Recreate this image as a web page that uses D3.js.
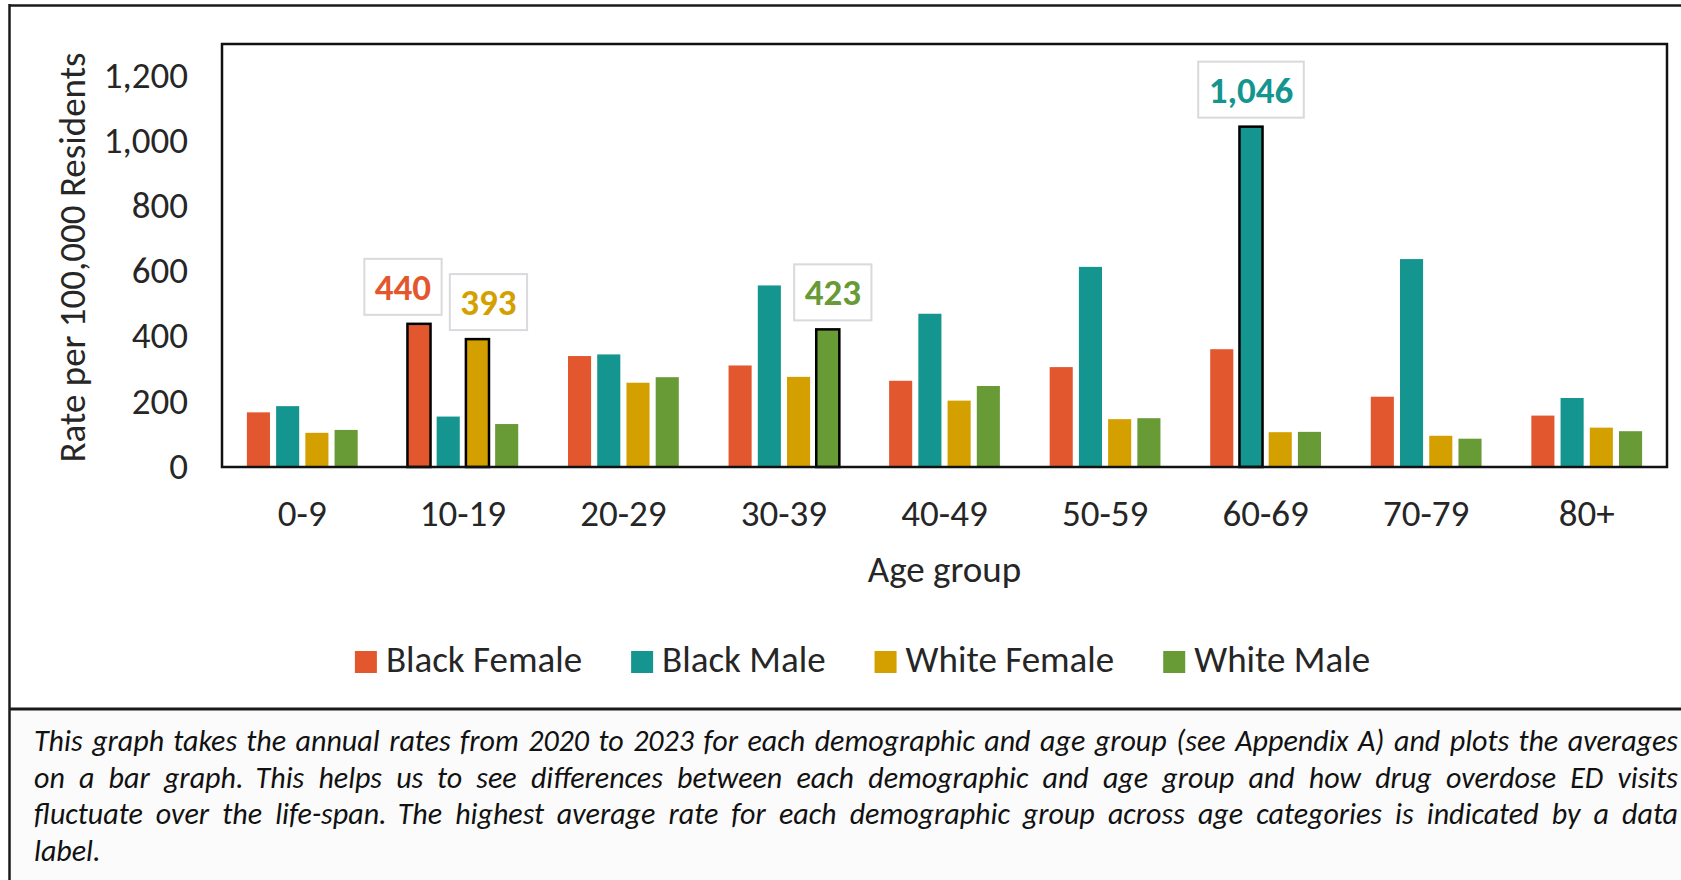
<!DOCTYPE html>
<html>
<head>
<meta charset="utf-8">
<script src="https://cdn.jsdelivr.net/npm/d3@7/dist/d3.min.js"></script>
<style>
  html, body { margin: 0; padding: 0; background: #ffffff; }
  svg { display: block; }
  text { font-family: Carlito, Calibri, "Open Sans", "Noto Sans", sans-serif; fill: #262626; }
</style>
</head>
<body>
<svg id="chart" width="1681" height="880"></svg>
<script>
// ---------------- data ----------------
const categories = ["0-9", "10-19", "20-29", "30-39", "40-49", "50-59", "60-69", "70-79", "80+"];
const seriesNames = ["Black Female", "Black Male", "White Female", "White Male"];
const blackFemale = [168, 440, 341, 312, 265, 307, 362, 216, 158];
const blackMale   = [187, 155, 346, 558, 471, 615, 1046, 639, 212];
const whiteFemale = [105, 393, 259, 277, 204, 147, 107, 96, 121];
const whiteMale   = [114, 132, 276, 423, 249, 150, 108, 87, 110];
const yTicks = [0, 200, 400, 600, 800, 1000, 1200];
const yTitle = "Rate per 100,000 Residents";
const xTitle = "Age group";
const captionLines = [
  "This graph takes the annual rates from 2020 to 2023 for each demographic and age group (see Appendix A) and plots the averages",
  "on a bar graph. This helps us to see differences between each demographic and age group and how drug overdose ED visits",
  "fluctuate over the life-span. The highest average rate for each demographic group across age categories is indicated by a data",
  "label."
];

// ---------------- styles / layout ----------------
const colors = {
  "Black Female": "#E3572F",
  "Black Male": "#14958F",
  "White Female": "#D4A000",
  "White Male": "#689A36"
};
const labelNudge = { "Black Female": -16, "Black Male": 0, "White Female": 11, "White Male": 5 };
const plot = { left: 222, right: 1667, top: 44, bottom: 467 };
const fontMain = 37;
const fontFam = 'Carlito, Calibri, "Open Sans", sans-serif';

const seriesValues = {
  "Black Female": blackFemale,
  "Black Male": blackMale,
  "White Female": whiteFemale,
  "White Male": whiteMale
};
const rows = categories.map((c, i) => {
  const r = { category: c };
  seriesNames.forEach(s => { r[s] = seriesValues[s][i]; });
  return r;
});

const svg = d3.select("#chart");

// caption background + frame
svg.append("rect").attr("x", 10).attr("y", 709).attr("width", 1700).attr("height", 200)
  .attr("fill", "#fbfbfb");
svg.append("line").attr("x1", 9).attr("x2", 1700).attr("y1", 5.5).attr("y2", 5.5)
  .attr("stroke", "#1a1a1a").attr("stroke-width", 2.5);
svg.append("line").attr("x1", 9.5).attr("x2", 9.5).attr("y1", 4).attr("y2", 900)
  .attr("stroke", "#1a1a1a").attr("stroke-width", 2.5);
svg.append("line").attr("x1", 9).attr("x2", 1700).attr("y1", 709).attr("y2", 709)
  .attr("stroke", "#1a1a1a").attr("stroke-width", 3);

// scales
const x0 = d3.scaleBand().domain(categories).range([plot.left, plot.right])
  .paddingInner(0.31).paddingOuter(0.155);
const x1 = d3.scaleBand().domain(seriesNames).range([0, x0.bandwidth()])
  .paddingInner(0.21).paddingOuter(0);
const y = d3.scaleLinear().domain([0, 1300]).range([plot.bottom, plot.top]);

// y axis labels
const yAxis = d3.axisLeft(y).tickValues(yTicks).tickFormat(d3.format(",")).tickSize(0).tickPadding(34);
const gy = svg.append("g").attr("transform", `translate(${plot.left},0)`).call(yAxis);
gy.select(".domain").remove();
gy.selectAll("text").attr("font-size", fontMain).attr("fill", "#262626")
  .attr("dy", "0.3em").style("font-family", fontFam);

// x axis labels
const xAxis = d3.axisBottom(x0).tickSize(0).tickPadding(33);
const gx = svg.append("g").attr("transform", `translate(0,${plot.bottom})`).call(xAxis);
gx.select(".domain").remove();
gx.selectAll("text").attr("font-size", fontMain).attr("fill", "#262626")
  .style("font-family", fontFam);

// bars
const groups = svg.append("g").selectAll("g").data(rows).join("g")
  .attr("transform", d => `translate(${x0(d.category)},0)`);

const maxBy = {};
seriesNames.forEach(s => { maxBy[s] = d3.max(seriesValues[s]); });

groups.selectAll("rect").data(d => seriesNames.map(s => ({ series: s, value: d[s], category: d.category })))
  .join("rect")
  .attr("x", d => x1(d.series))
  .attr("y", d => y(d.value))
  .attr("width", x1.bandwidth())
  .attr("height", d => y(0) - y(d.value))
  .attr("fill", d => colors[d.series])
  .attr("stroke", d => d.value === maxBy[d.series] ? "#000" : "none")
  .attr("stroke-width", 2.5);

// plot frame
svg.append("rect").attr("x", plot.left).attr("y", plot.top)
  .attr("width", plot.right - plot.left).attr("height", plot.bottom - plot.top)
  .attr("fill", "none").attr("stroke", "#111").attr("stroke-width", 2.5);

// data labels for maxima
const fmt = d3.format(",");
seriesNames.forEach(s => {
  const vals = seriesValues[s];
  const idx = vals.indexOf(maxBy[s]);
  const cx = x0(categories[idx]) + x1(s) + x1.bandwidth() / 2 + labelNudge[s];
  const boxBottom = y(maxBy[s]) - 9;
  const g = svg.append("g");
  const t = g.append("text").text(fmt(maxBy[s]))
    .attr("x", cx).attr("y", boxBottom - 15)
    .attr("text-anchor", "middle")
    .attr("font-size", fontMain).attr("font-weight", "bold")
    .style("fill", colors[s]);
  const w = t.node().getComputedTextLength() + 21;
  g.insert("rect", "text")
    .attr("x", cx - w / 2).attr("y", boxBottom - 56)
    .attr("width", w).attr("height", 56)
    .attr("fill", "#fff").attr("stroke", "#d9d9de").attr("stroke-width", 2);
});

// y title
svg.append("text").text(yTitle)
  .attr("transform", `translate(85,${(plot.top + plot.bottom) / 2 + 2}) rotate(-90)`)
  .attr("text-anchor", "middle").attr("font-size", fontMain);

// x title
svg.append("text").text(xTitle)
  .attr("x", (plot.left + plot.right) / 2).attr("y", 582)
  .attr("text-anchor", "middle").attr("font-size", fontMain);

// legend
const leg = svg.append("g");
let lx = 0;
seriesNames.forEach(s => {
  const it = leg.append("g").attr("transform", `translate(${lx},0)`);
  it.append("rect").attr("x", 0).attr("y", 651).attr("width", 22).attr("height", 22)
    .attr("fill", colors[s]);
  const t = it.append("text").text(s).attr("x", 31).attr("y", 672).attr("font-size", fontMain);
  lx += 31 + t.node().getComputedTextLength() + 49;
});
const legW = lx - 49;
leg.attr("transform", `translate(${862.5 - legW / 2},0)`);

// caption (justified lines)
const capX0 = 34, capX1 = 1678, capW = capX1 - capX0;
const capBase = [751, 787.5, 824, 860.5];
captionLines.forEach((line, i) => {
  const justify = i < captionLines.length - 1;
  const t = svg.append("text").attr("y", capBase[i]).attr("font-size", 30)
    .attr("font-style", "italic").style("fill", "#111");
  if (!justify) {
    t.attr("x", capX0).text(line);
    return;
  }
  const words = line.split(" ");
  const spans = words.map(w => t.append("tspan").text(w));
  const widths = spans.map(sp => sp.node().getComputedTextLength());
  const sum = d3.sum(widths);
  const gap = (capW - sum) / (words.length - 1);
  let cx = capX0;
  spans.forEach((sp, k) => {
    sp.attr("x", cx);
    cx += widths[k] + gap;
  });
});
</script>
</body>
</html>
